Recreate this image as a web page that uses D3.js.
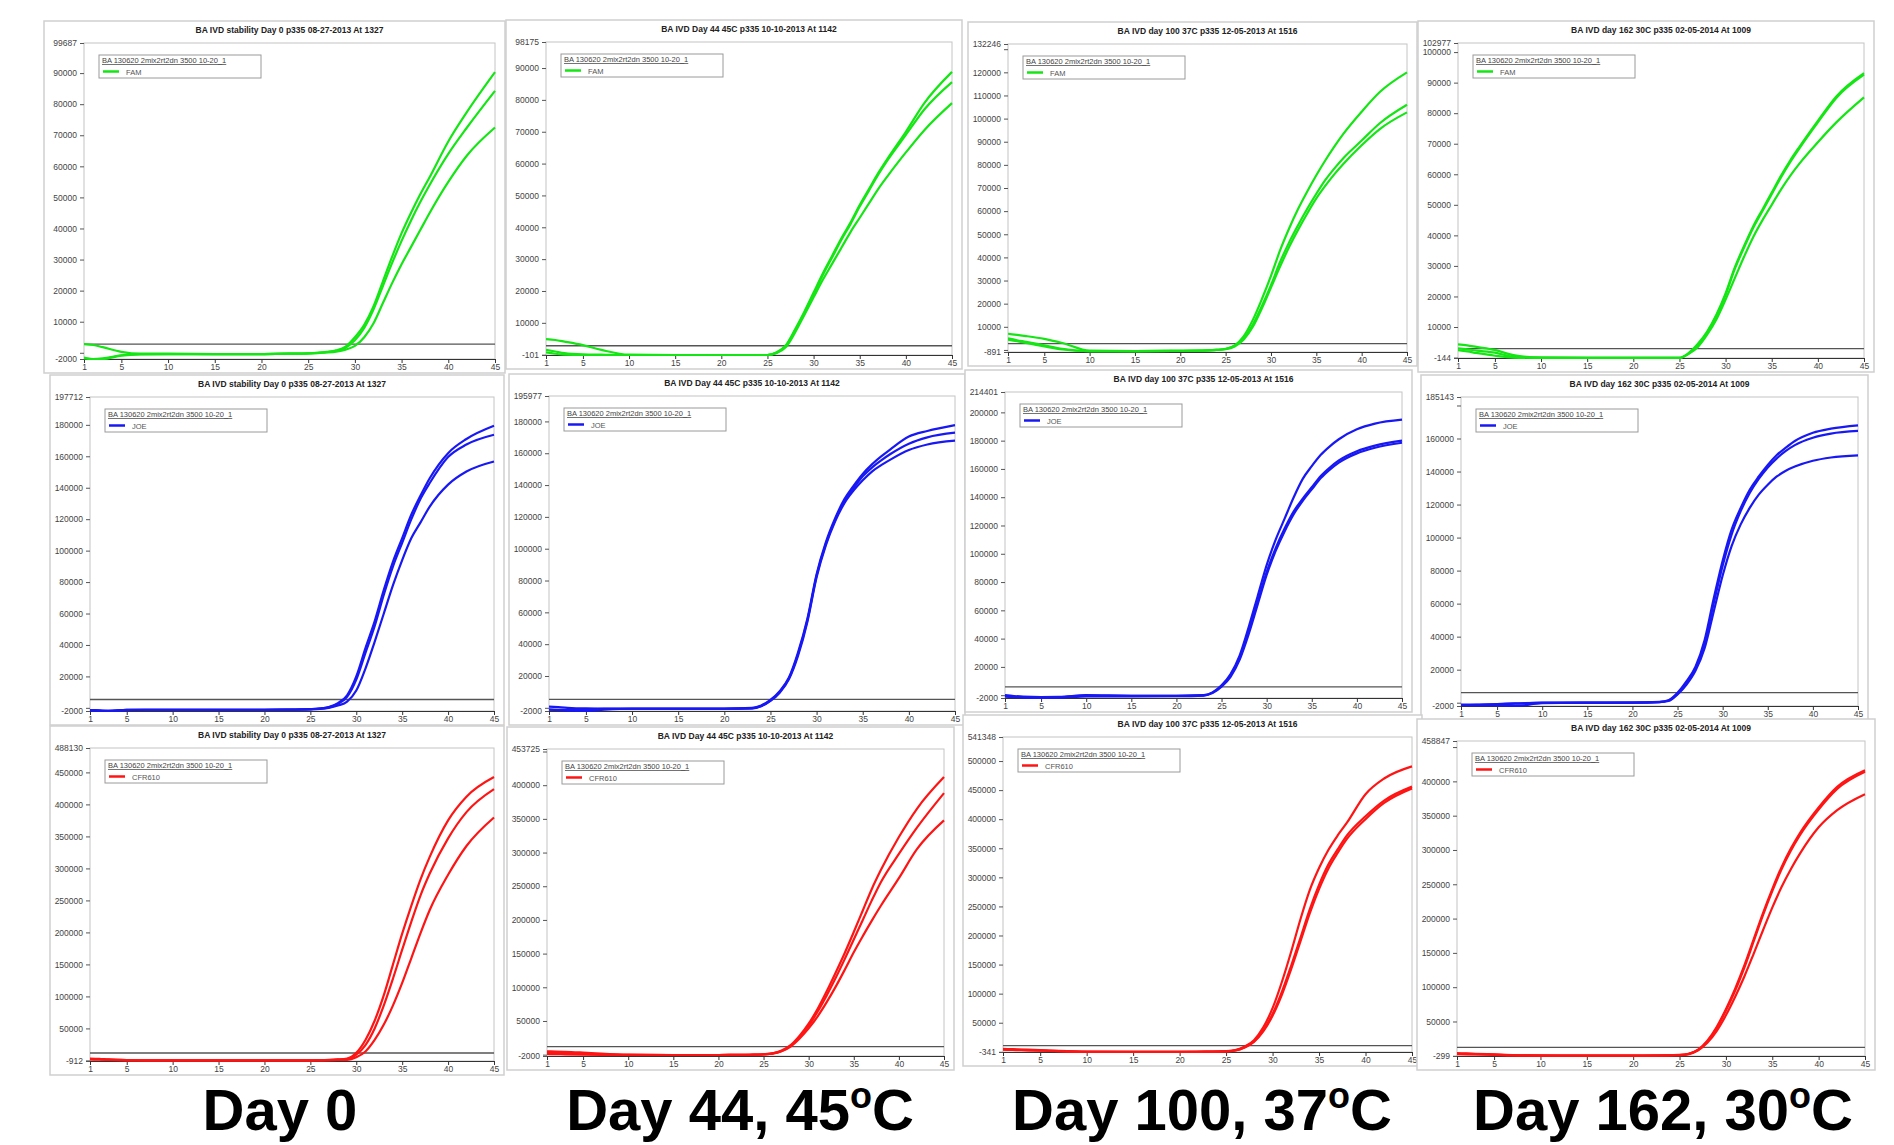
<!DOCTYPE html>
<html>
<head>
<meta charset="utf-8">
<script src="https://cdn.jsdelivr.net/npm/d3@7"></script>
<style>
body { margin: 0; background: #fff; }
svg { display: block; font-family: "Liberation Sans", Arial, sans-serif; }
</style>
</head>
<body>
<script>
const W = 1894, H = 1145;

const cycles = [1, 2, 3, 5, 7, 10, 15, 20, 23, 24, 25, 26, 27, 28, 29, 30, 31, 32, 33, 34, 35, 36, 37, 38, 40, 42, 45];
const xTicks = [1, 5, 10, 15, 20, 25, 30, 35, 40, 45];

const runTitles = [
	'BA IVD stability Day 0 p335 08-27-2013 At 1327',
	'BA IVD Day 44 45C p335 10-10-2013 At 1142',
	'BA IVD day 100 37C p335 12-05-2013 At 1516',
	'BA IVD day 162 30C p335 02-05-2014 At 1009'
];
const captionMain = ['Day 0', 'Day 44, 45', 'Day 100, 37', 'Day 162, 30'];
const captionSup = ['', 'o', 'o', 'o'];
const captionTail = ['', 'C', 'C', 'C'];
const runName = 'BA 130620 2mix2rt2dn 3500 10-20_1';
const dyes = ['FAM', 'JOE', 'CFR610'];
const dyeColors = ['#14e614', '#1818f4', '#ff1414'];

// rows = dye, cols = day
const yMins = [[-2000, -101, -891, -144], [-2000, -2000, -2000, -2000], [-912, -2000, -341, -299]];
const yMaxs = [[99687, 98175, 132246, 102977], [197712, 195977, 214401, 185143], [488130, 453725, 541348, 458847]];
const thresholds = [[2800, 2800, 2700, 2900], [5300, 5300, 5800, 6100], [11600, 11900, 10600, 12300]];
const tickSteps = [10000, 20000, 50000];

// fluorescence in thousands, one row per replicate
const famDay0 = [
	[2.8, 2.5, 1.8, 0.3, -0.3, -0.3, -0.4, -0.4, -0.3, -0.3, -0.2, 0, 0.3, 0.8, 2, 5, 9, 15, 23, 31, 38.5, 45, 51, 56.5, 68, 77.5, 90.3],
	[-1.5, -2, -1.8, -0.8, -0.4, -0.4, -0.4, -0.4, -0.3, -0.3, -0.2, 0, 0.2, 0.6, 1.6, 4, 8, 14, 21.5, 29, 36, 42.5, 48.5, 54, 64, 72.5, 84.3],
	[-1.8, -2, -2, -0.9, -0.5, -0.4, -0.4, -0.4, -0.3, -0.3, -0.2, -0.1, 0.1, 0.4, 1, 2.2, 5, 9.5, 16, 22.5, 28.5, 34, 39.5, 45, 55, 63.5, 72.5]
];
const famDay44 = [
	[4.9, 4.6, 4.1, 3, 1.5, 0, -0.1, -0.1, -0.1, -0.1, -0.1, 0.8, 3, 8, 13.5, 19.5, 25.5, 31, 36.5, 41.5, 47, 52, 57, 61.5, 70, 79, 88.8],
	[1.5, 1, 0.5, 0.1, 0, -0.1, -0.1, -0.1, -0.1, -0.1, -0.1, 0.6, 2.7, 7.6, 13, 19, 25, 30.5, 36, 41, 46.5, 51.5, 56.5, 61, 69, 77, 85.6],
	[0.7, 0.3, 0, -0.1, -0.1, -0.1, -0.1, -0.1, -0.1, -0.1, -0.1, 0.5, 2.4, 7, 12.5, 18, 23.5, 28.5, 33.5, 38.5, 43, 47.5, 52, 56, 63.5, 70.5, 79]
];
const famDay100 = [
	[7, 6.5, 6, 4.8, 3, -0.3, -0.5, -0.4, -0.2, 0, 0.5, 2, 6, 13, 22, 32, 43, 52.5, 61, 68.5, 75.5, 82, 88, 93.5, 103, 111.5, 120],
	[5, 4.2, 3.5, 2, 0.5, -0.5, -0.5, -0.4, -0.2, 0, 0.4, 1.8, 5, 11, 19, 28, 38, 46.5, 54, 61, 67.5, 73.5, 78.5, 83, 90.5, 98, 106],
	[4.5, 3.8, 3, 1.5, 0.2, -0.5, -0.5, -0.4, -0.2, 0, 0.3, 1.5, 4.5, 10, 18, 27, 36, 44.5, 52, 59, 65.5, 71, 76, 80.5, 88.5, 95.5, 102.7]
];
const famDay162 = [
	[4.3, 4, 3.5, 2.5, 0.8, 0, -0.1, -0.1, -0.1, -0.1, -0.1, 1.5, 4.5, 8.5, 14, 21, 29.5, 36.5, 43, 48.5, 54, 59.5, 64.5, 69, 77.5, 85.5, 93.1],
	[3, 2.7, 2.3, 1.6, 0.3, 0, -0.1, -0.1, -0.1, -0.1, -0.1, 1.3, 4, 8, 13.5, 20.5, 29, 36, 42.5, 48, 53.5, 59, 64, 68.5, 77, 85, 92.6],
	[2.4, 2, 1.5, 0.6, 0, -0.1, -0.1, -0.1, -0.1, -0.1, -0.1, 1.2, 3.5, 7.5, 12.5, 19, 26, 33, 39.5, 45, 50, 55, 59.5, 63.5, 70.5, 77, 85.2]
];
const joeDay0 = [
	[-1.5, -1.8, -2, -1.3, -1.2, -1.2, -1.2, -1.2, -1.1, -1, -0.8, -0.4, 0.5, 3, 8, 20, 38, 55, 75, 93, 108, 123, 135, 146, 162, 171, 179.4],
	[-1.6, -1.9, -2, -1.4, -1.2, -1.2, -1.2, -1.2, -1.1, -1, -0.8, -0.5, 0.3, 2.5, 7, 18, 35, 52, 72, 90, 105, 120, 133, 143, 159.5, 167.5, 173.7],
	[-1.4, -1.6, -1.8, -1.3, -1.2, -1.2, -1.2, -1.2, -1.1, -1.1, -1, -0.7, 0, 1.5, 4, 11, 25, 42, 60, 78, 94, 108, 118, 128, 142, 150.3, 156.7]
];
const joeDay44 = [
	[0.8, 0.4, 0, -0.4, -0.5, -0.5, -0.5, -0.5, 0, 1.5, 5, 10.5, 19, 35, 56, 84, 104, 119, 131, 139.5, 147, 153, 158, 162.5, 170.5, 174, 177.7],
	[-1, -1.5, -1.8, -2, -1.2, -0.6, -0.6, -0.6, -0.3, 1.2, 4.6, 10, 18.5, 34, 55, 83, 103, 118, 129.5, 138, 145.5, 151, 155.5, 159.5, 166, 170, 172.9],
	[-1.2, -1.3, -1.4, -0.9, -0.6, -0.6, -0.6, -0.6, -0.4, 1, 4.3, 9.5, 18, 33, 54, 82, 102, 117, 128.5, 136.5, 143, 148.5, 152.5, 156, 162, 165.5, 167.9]
];
const joeDay100 = [
	[-0.5, -1, -1.3, -1.5, -1.5, -0.3, -0.5, -0.5, 0, 2, 7, 15, 28, 48, 70, 92, 110, 125, 140, 153, 162, 170, 176, 181, 188, 192, 194.8],
	[-1, -1.4, -1.7, -1.9, -1.8, -0.8, -0.8, -0.7, -0.3, 1.8, 6.5, 14, 26, 45, 66, 87, 104, 118, 130, 139, 147, 155, 161, 166, 172.5, 176.5, 180],
	[0, -0.6, -1, -1.3, -1.2, 0, -0.4, -0.4, -0.1, 1.5, 6, 13, 25, 43, 64, 85, 102, 116, 128, 137.5, 145.5, 153.5, 159.5, 164.5, 171, 175, 178.5]
];
const joeDay162 = [
	[-1.4, -1.4, -1.3, -1, -0.6, 0, 0, 0, 0.5, 1.5, 6, 13, 22, 38, 63, 86, 105, 118, 129, 137, 144, 150, 154.5, 158.5, 163.5, 166, 168],
	[-1.5, -1.6, -1.7, -1.6, -2, -0.3, -0.1, 0, 0.4, 1.3, 5.5, 12, 21, 36, 60, 83, 102, 116, 127, 135.5, 142.5, 148, 152.5, 156, 160.5, 163, 164.6],
	[-1.2, -1.2, -1.1, -0.8, -0.4, -0.1, 0, 0, 0.3, 1, 5, 11, 19.5, 33, 55, 77, 95, 108, 118, 126, 132, 137, 140.5, 143, 146.5, 148.5, 149.8]
];
const cfrDay0 = [
	[3, 2.5, 1.5, 0.5, 0.2, 0, 0, 0, 0, 0.1, 0.2, 0.4, 0.8, 1.5, 3, 12, 32, 62, 102, 150, 198, 242, 283, 318, 375, 412, 442.7],
	[2, 1.8, 1.2, 0.4, 0.1, 0, 0, 0, 0, 0.1, 0.1, 0.3, 0.6, 1.2, 2, 9, 24, 50, 86, 128, 173, 217, 258, 292, 347, 388, 423.9],
	[1.5, 1.2, 0.8, 0.2, 0, 0, 0, 0, 0, 0, 0.1, 0.2, 0.4, 0.8, 1, 5, 14, 32, 56, 86, 121, 160, 199, 235, 290, 335, 379.6]
];
const cfrDay44 = [
	[5, 4.7, 4.3, 3, 1.5, 0, -0.5, -0.5, -0.3, 0, 0.6, 2, 6, 14, 28, 46, 68, 94, 122, 151, 182, 214, 246, 274, 323, 365, 412],
	[3, 2.8, 2.5, 1.5, 0.5, -0.3, -0.5, -0.5, -0.3, 0, 0.5, 1.8, 5.5, 13, 26, 43, 64, 88, 114, 142, 171, 200, 229, 256, 298, 337, 388.3],
	[1, 0.8, 0.5, 0, -0.3, -0.5, -0.5, -0.5, -0.3, 0, 0.4, 1.5, 5, 12, 24, 39, 57, 78, 101, 126, 152, 176, 199, 221, 262, 305, 347.7]
];
const cfrDay100 = [
	[5, 4.5, 4, 3, 1.5, 0.2, 0, 0, 0.3, 0.6, 1, 3, 9, 20, 42, 75, 120, 172, 228, 278, 316, 347, 372, 394, 443, 470, 490.9],
	[4, 3.6, 3.2, 2.4, 1.2, 0.1, 0, 0, 0.2, 0.5, 0.8, 2.5, 8, 18, 37, 65, 103, 148, 196, 245, 287, 322, 348, 372, 405, 432, 456],
	[3.5, 3.2, 2.8, 2, 1, 0, 0, 0, 0.2, 0.4, 0.7, 2.2, 7.5, 17, 35, 62, 98, 142, 190, 238, 280, 315, 342, 366, 400, 428, 453]
];
const cfrDay162 = [
	[3.8, 3.4, 3, 2, 1, 0.5, 0.4, 0.4, 0.6, 0.9, 1.2, 3, 9, 22, 42, 68, 98, 132, 170, 208, 243, 275, 302, 325, 362, 392, 416.2],
	[3, 2.7, 2.4, 1.6, 0.8, 0.4, 0.3, 0.3, 0.5, 0.8, 1.1, 2.8, 8.5, 21, 40, 66, 95, 129, 167, 205, 240, 272, 299, 322, 359, 389, 414],
	[2.5, 2.2, 2, 1.3, 0.6, 0.3, 0.2, 0.2, 0.4, 0.7, 1, 2.5, 8, 19, 36, 59, 86, 116, 149, 183, 216, 246, 272, 295, 333, 358, 381.3]
];
const curves = [
	[famDay0, famDay44, famDay100, famDay162],
	[joeDay0, joeDay44, joeDay100, joeDay162],
	[cfrDay0, cfrDay44, cfrDay100, cfrDay162]
];

// plot rectangles [left, right, top, bottom] — the screenshots are not aligned exactly
const plotBoxes = [
	[[84, 495, 43, 359], [546, 952, 42, 355], [1008, 1407, 44, 352], [1458, 1864, 43, 358]],
	[[90, 494, 397, 711], [549, 955, 396, 711], [1005, 1402, 392, 698], [1461, 1858, 397, 706]],
	[[90, 494, 748, 1061], [547, 944, 749, 1056], [1003, 1412, 737, 1052], [1457, 1865, 741, 1056]]
];
const captionX = [280, 740, 1202, 1663];

const svg = d3.select('body').append('svg')
	.attr('width', W)
	.attr('height', H);

dyes.forEach((dye, r) => {
	runTitles.forEach((title, c) => {
		const [left, right, top, bottom] = plotBoxes[r][c];
		const g = svg.append('g');
		const x = d3.scaleLinear().domain([1, 45]).range([left, right]);
		const y = d3.scaleLinear().domain([yMins[r][c], yMaxs[r][c]]).range([bottom, top]);

		// screenshot frame
		g.append('rect')
			.attr('x', left - 40)
			.attr('y', top - 22)
			.attr('width', right - left + 50)
			.attr('height', bottom - top + 36)
			.style('fill', '#fff')
			.style('stroke', '#cfcfcf')
			.style('stroke-width', 1.5);

		g.append('text')
			.attr('x', (left + right) / 2)
			.attr('y', top - 10)
			.attr('text-anchor', 'middle')
			.style('font-size', '8.5px')
			.style('font-weight', 'bold')
			.style('fill', '#222')
			.text(title);

		g.append('rect')
			.attr('x', left)
			.attr('y', top)
			.attr('width', right - left)
			.attr('height', bottom - top)
			.style('fill', 'none')
			.style('stroke', '#c4c4c4')
			.style('stroke-width', 1);

		// y ticks: min, 0, steps, max
		const step = tickSteps[r];
		const yMin = yMins[r][c], yMax = yMaxs[r][c];
		const tv = [yMin];
		if (yMin < 0) tv.push(0);
		for (let v = step; v < yMax; v += step) tv.push(v);
		tv.push(yMax);
		const yAxis = g.append('g')
			.attr('transform', 'translate(' + left + ',0)')
			.call(d3.axisLeft(y).tickValues(tv).tickSize(4).tickSizeOuter(0).tickPadding(3).tickFormat(d => d));
		yAxis.select('.domain').remove();
		yAxis.selectAll('.tick line').style('stroke', '#555');
		yAxis.selectAll('.tick text')
			.style('font-size', '8.5px')
			.style('fill', '#444')
			.style('font-family', '"Liberation Sans", Arial, sans-serif')
			.style('display', d => {
				if (d === yMin || d === yMax) return null;
				const near = Math.abs(y(d) - y(yMin)) < 8.8 || Math.abs(y(d) - y(yMax)) < 8.8;
				return near ? 'none' : null;
			});

		const xAxis = g.append('g')
			.attr('transform', 'translate(0,' + bottom + ')')
			.call(d3.axisBottom(x).tickValues(xTicks).tickSize(4).tickSizeOuter(0).tickPadding(1));
		xAxis.select('.domain').style('stroke', '#333');
		xAxis.selectAll('.tick line').style('stroke', '#333');
		xAxis.selectAll('.tick text')
			.style('font-size', '8.5px')
			.style('fill', '#444')
			.style('font-family', '"Liberation Sans", Arial, sans-serif');

		// threshold
		g.append('line')
			.attr('x1', left)
			.attr('x2', right)
			.attr('y1', y(thresholds[r][c]))
			.attr('y2', y(thresholds[r][c]))
			.style('stroke', '#555')
			.style('stroke-width', 1.3);

		const clipId = 'clip' + r + c;
		g.append('clipPath').attr('id', clipId)
			.append('rect')
			.attr('x', left)
			.attr('y', top - 2)
			.attr('width', right - left + 2)
			.attr('height', bottom - top + 4);

		const line = d3.line()
			.x((d, i) => x(cycles[i]))
			.y(d => y(d * 1000))
			.curve(d3.curveMonotoneX);

		g.append('g').attr('clip-path', 'url(#' + clipId + ')')
			.selectAll('path')
			.data(curves[r][c])
			.enter().append('path')
			.attr('d', line)
			.style('fill', 'none')
			.style('stroke', dyeColors[r])
			.style('stroke-width', 2.2);

		// legend
		const lx = left + 15, ly = top + 12;
		g.append('rect')
			.attr('x', lx)
			.attr('y', ly)
			.attr('width', 162)
			.attr('height', 23)
			.style('fill', '#fff')
			.style('stroke', '#9a9a9a')
			.style('stroke-width', 1);
		g.append('text')
			.attr('x', lx + 3)
			.attr('y', ly + 8)
			.style('font-size', '7.5px')
			.style('fill', '#444')
			.style('text-decoration', 'underline')
			.text(runName);
		g.append('line')
			.attr('x1', lx + 4)
			.attr('x2', lx + 20)
			.attr('y1', ly + 16.5)
			.attr('y2', ly + 16.5)
			.style('stroke', dyeColors[r])
			.style('stroke-width', 2.5);
		g.append('text')
			.attr('x', lx + 27)
			.attr('y', ly + 19.5)
			.style('font-size', '7.5px')
			.style('fill', '#555')
			.text(dye);
	});
});

captionMain.forEach((main, c) => {
	const t = svg.append('text')
		.attr('x', captionX[c])
		.attr('y', 1130)
		.attr('text-anchor', 'middle')
		.style('font-size', '58px')
		.style('font-weight', 'bold')
		.style('fill', '#000');
	t.append('tspan').text(main);
	if (captionSup[c]) {
		t.append('tspan').attr('dy', -22).style('font-size', '36px').text(captionSup[c]);
		t.append('tspan').attr('dy', 22).text(captionTail[c]);
	}
});
</script>
</body>
</html>
